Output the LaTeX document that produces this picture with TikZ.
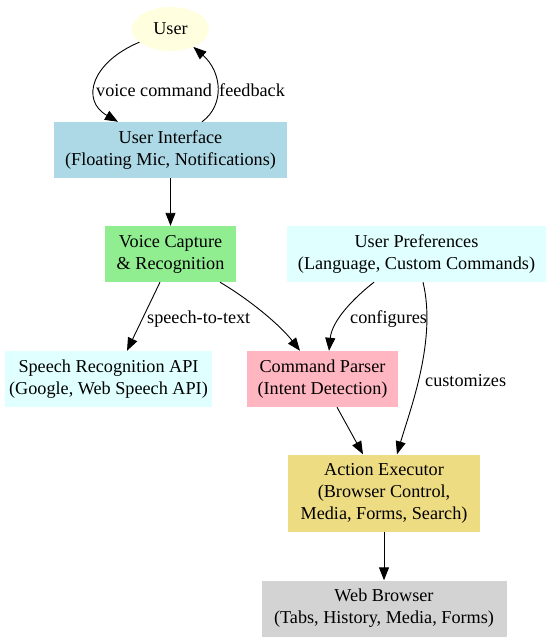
\documentclass[tikz,border=0pt]{standalone}
\usepackage{fontspec}
\setmainfont{Liberation Serif}
\usetikzlibrary{arrows.meta,shapes.geometric}
\definecolor{cyellow}{HTML}{FFFFE0}
\definecolor{cblue}{HTML}{ADD8E6}
\definecolor{cgreen}{HTML}{90EE90}
\definecolor{ccyan}{HTML}{E0FFFF}
\definecolor{cpink}{HTML}{FFB6C1}
\definecolor{cgold}{HTML}{EEDC82}
\definecolor{cgray}{HTML}{D3D3D3}
\begin{document}
\begin{tikzpicture}[x=1bp,y=-1bp,
  every node/.style={font=\fontsize{18.2bp}{22bp}\selectfont, inner sep=0pt, align=center},
  box/.style={rectangle, draw=none, minimum height=56bp},
  lbl/.style={anchor=west},
  edge/.style={draw=black, line width=0.9bp, -{Triangle[length=13bp,width=10bp]}}]
\useasboundingbox (0,0) rectangle (553,642);
\node[ellipse, fill=cyellow, minimum width=77bp, minimum height=44bp] (user) at (170.5,29) {User};
\node[box, fill=cblue, minimum width=233bp] (ui) at (170.5,150) {User Interface\\(Floating Mic, Notifications)};
\node[box, fill=cgreen, minimum width=131bp] (vc) at (170.5,254) {Voice Capture\\\& Recognition};
\node[box, fill=ccyan, minimum width=259bp] (up) at (416.5,254) {User Preferences\\(Language, Custom Commands)};
\node[box, fill=ccyan, minimum width=207bp] (sr) at (108.5,379) {Speech Recognition API\\(Google, Web Speech API)};
\node[box, fill=cpink, minimum width=151bp] (cp) at (322.5,379) {Command Parser\\(Intent Detection)};
\node[box, fill=cgold, minimum width=192bp, minimum height=77bp] (ae) at (384,493) {Action Executor\\(Browser Control,\\Media, Forms, Search)};
\node[box, fill=cgray, minimum width=245bp] (wb) at (384,608.5) {Web Browser\\(Tabs, History, Media, Forms)};

\draw[edge] (user.203) .. controls (92,62) and (80,100) .. ([xshift=-52.5bp]ui.north);
\draw[edge] ([xshift=31.5bp]ui.north) .. controls (225,105) and (222,72) .. (user.322);
\draw[edge] (ui.south) -- (vc.north);
\draw[edge] ([xshift=-10.5bp]vc.south) -- ([xshift=18.5bp]sr.north);
\draw[edge] ([xshift=49.5bp]vc.south) .. controls (250,300) and (280,325) .. ([xshift=-22.5bp]cp.north);
\draw[edge] ([xshift=-42.5bp]up.south) .. controls (355,297) and (332,320) .. ([xshift=6.5bp]cp.north);
\draw[edge] ([xshift=6.5bp]up.south) .. controls (437,340) and (410,410) .. ([xshift=13bp]ae.north);
\draw[edge] ([xshift=14.5bp]cp.south) -- ([xshift=-21bp]ae.north);
\draw[edge] (ae.south) -- (wb.north);

\node[lbl] (l1) at (96,90) {voice command};
\node[lbl] (l2) at (219,90) {feedback};
\node[lbl] (l3) at (147,319) {speech-to-text};
\node[lbl] (l4) at (350,319) {configures};
\node[lbl] (l5) at (425,381) {customizes};
\end{tikzpicture}
\end{document}
